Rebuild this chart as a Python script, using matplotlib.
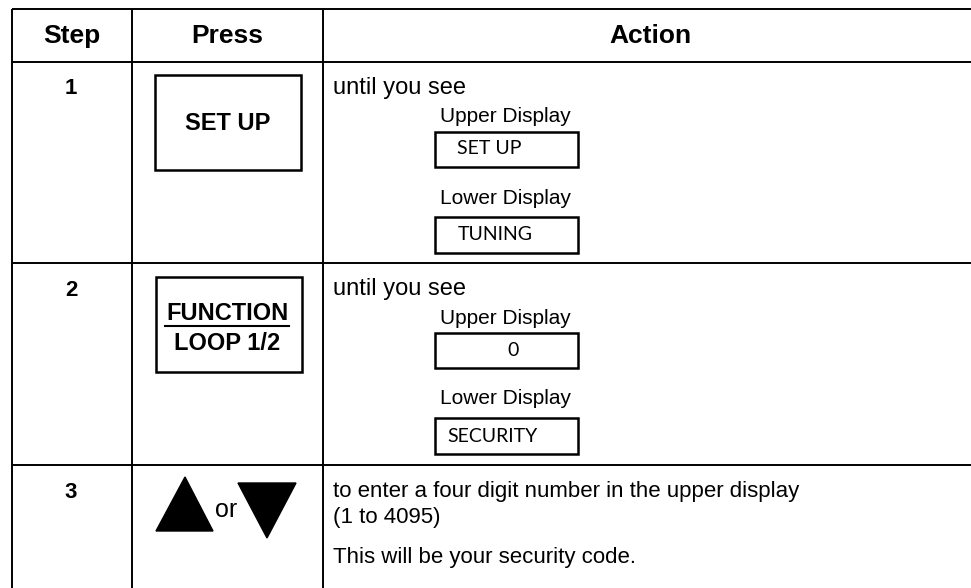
import matplotlib
matplotlib.use('Agg')
import matplotlib.pyplot as plt
from matplotlib.patches import Rectangle, Polygon

# table content
headers = ['Step', 'Press', 'Action']
steps = ['1', '2', '3']
press_keys = ['SET UP', 'FUNCTION\nLOOP 1/2', 'or']
intro_text = ['until you see', 'until you see']
upper_values = ['SET UP', '0']
lower_values = ['TUNING', 'SECURITY']
step3_lines = ['to enter a four digit number in the upper display', '(1 to 4095)',
               'This will be your security code.']

# layout in pixels (figure is 971 x 588)
col_x = [12, 132, 323, 980]
row_y = [9, 62, 263, 465, 600]

font = 'Liberation Sans'
disp_font = 'Lato'

fig = plt.figure(figsize=(9.71, 5.88), dpi=100)
ax = fig.add_axes([0, 0, 1, 1])
ax.set_xlim(0, 971)
ax.set_ylim(588, 0)
ax.axis('off')

lw = 1.4
# grid lines
for y in row_y[:-1]:
    ax.plot([col_x[0], col_x[-1]], [y, y], color='black', lw=lw, solid_capstyle='butt')
for x in col_x[:-1]:
    ax.plot([x, x], [row_y[0], row_y[-1]], color='black', lw=lw, solid_capstyle='butt')

# header
for i, h in enumerate(headers):
    cx = (col_x[i] + min(col_x[i + 1], 978)) / 2
    ax.text(cx, 36, h, ha='center', va='center', fontsize=19, fontweight='bold', family=font)

# step numbers
for i, s in enumerate(steps):
    ax.text(71, row_y[i + 1] + 27, s, ha='center', va='center', fontsize=16,
            fontweight='bold', family=font)

# press keys
ax.add_patch(Rectangle((155, 75), 146, 95, fill=False, lw=1.8, ec='black'))
ax.text(228, 123, press_keys[0], ha='center', va='center', fontsize=17,
        fontweight='bold', family=font)

ax.add_patch(Rectangle((156, 277), 146, 95, fill=False, lw=1.8, ec='black'))
l1, l2 = press_keys[1].split('\n')
ax.text(227, 320, l1, ha='center', va='baseline', fontsize=17, fontweight='bold', family=font)
ax.plot([165, 289], [325.5, 325.5], color='black', lw=1.5)
ax.text(227, 350, l2, ha='center', va='baseline', fontsize=17, fontweight='bold', family=font)

# up / down arrows
ax.add_patch(Polygon([[156, 531], [213, 531], [185, 477]], closed=True, color='black'))
ax.add_patch(Polygon([[238, 483], [296, 483], [267, 538]], closed=True, color='black'))
ax.text(226, 510, press_keys[2], ha='center', va='center', fontsize=18, family=font)

# action column, rows 1 and 2
tops = [62, 263]
for i in range(2):
    t = tops[i]
    ax.text(333, t + 26, intro_text[i], ha='left', va='center', fontsize=17, family=font)
    ax.text(505, t + 55, 'Upper Display', ha='center', va='center', fontsize=15, family=font)
    ax.add_patch(Rectangle((435, t + 70), 143, 35, fill=False, lw=1.8, ec='black'))
    ax.text(506, t + 136, 'Lower Display', ha='center', va='center', fontsize=15, family=font)
    ax.add_patch(Rectangle((435, t + 155), 143, 36, fill=False, lw=1.8, ec='black'))

ax.text(457, 148, upper_values[0], ha='left', va='center', fontsize=14, family=disp_font)
ax.text(513, 351, upper_values[1], ha='center', va='center', fontsize=14, family=disp_font)
ax.text(458, 234, lower_values[0], ha='left', va='center', fontsize=14, family=disp_font)
ax.text(447, 436, lower_values[1], ha='left', va='center', fontsize=14, family=disp_font)

# action column, row 3
ax.text(333, 492, step3_lines[0], ha='left', va='center', fontsize=16, family=font)
ax.text(333, 518, step3_lines[1], ha='left', va='center', fontsize=16, family=font)
ax.text(333, 558, step3_lines[2], ha='left', va='center', fontsize=16, family=font)

fig.savefig('out.png', dpi=100)
